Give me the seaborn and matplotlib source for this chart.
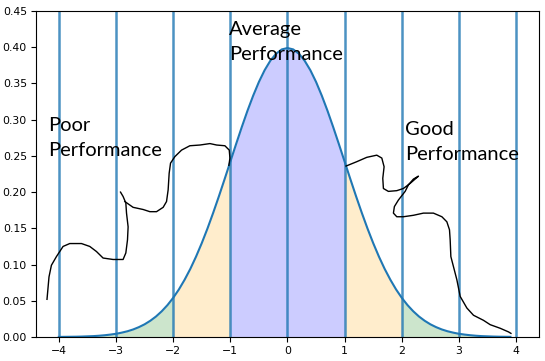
import numpy as np
import pandas as pd
import matplotlib
matplotlib.use("Agg")
import matplotlib.pyplot as plt
import seaborn as sns

# normal curve at 0.1 steps (x = -4.0 ... 3.9)
curve_x = np.round(np.arange(-40, 40) / 10, 1)
half_pdf = [0.3989, 0.3970, 0.3910, 0.3814, 0.3683, 0.3521, 0.3332, 0.3123, 0.2897, 0.2661,
            0.2420, 0.2179, 0.1942, 0.1714, 0.1497, 0.1295, 0.1109, 0.0940, 0.0790, 0.0656,
            0.0540, 0.0440, 0.0355, 0.0283, 0.0224, 0.0175, 0.0136, 0.0104, 0.0079, 0.0060,
            0.0044, 0.0033, 0.0024, 0.0017, 0.0012, 0.0009, 0.0006, 0.0004, 0.0003, 0.0002,
            0.0001]
curve_y = half_pdf[::-1] + half_pdf[1:40]

vlines = [-4, -3, -2, -1, 0, 1, 2, 3, 4]

# hand drawn strokes
stroke_a_x = [-4.207, -4.172, -4.130, -4.042, -3.926, -3.809, -3.604, -3.459, -3.342, -3.226,
              -3.051, -2.876, -2.828, -2.799, -2.788, -2.816, -2.828, -2.876, -2.921]
stroke_a_y = [0.052, 0.083, 0.099, 0.111, 0.125, 0.129, 0.129, 0.125, 0.118, 0.109,
              0.107, 0.107, 0.116, 0.134, 0.152, 0.171, 0.185, 0.194, 0.200]
stroke_b_x = [-2.846, -2.701, -2.525, -2.408, -2.291, -2.175, -2.116, -2.088, -2.070, -2.046,
              -1.970, -1.853, -1.708, -1.532, -1.357, -1.240, -1.095, -1.019, -1.007, -1.025]
stroke_b_y = [0.187, 0.179, 0.176, 0.173, 0.173, 0.179, 0.187, 0.203, 0.226, 0.240,
              0.249, 0.258, 0.264, 0.265, 0.267, 0.265, 0.264, 0.258, 0.247, 0.237]
stroke_c_x = [1.025, 1.212, 1.387, 1.562, 1.650, 1.690, 1.667, 1.678, 1.765, 1.912,
              2.028, 2.145, 2.291, 2.203, 2.116, 2.058, 1.940, 1.870, 1.853, 1.912,
              2.028, 2.203, 2.378, 2.553, 2.701, 2.788, 2.834, 2.846, 2.858, 2.904,
              2.963, 3.021, 3.138, 3.254, 3.429, 3.546, 3.722, 3.867, 3.909]
stroke_c_y = [0.236, 0.242, 0.248, 0.251, 0.247, 0.235, 0.219, 0.205, 0.201, 0.202,
              0.205, 0.212, 0.222, 0.218, 0.210, 0.201, 0.189, 0.180, 0.171, 0.166,
              0.166, 0.168, 0.171, 0.171, 0.166, 0.159, 0.148, 0.134, 0.111, 0.097,
              0.079, 0.056, 0.040, 0.030, 0.023, 0.017, 0.012, 0.007, 0.005]

labels = ["Poor\nPerformance", "Average\nPerformance", "Good\nPerformance"]
label_x = [-4.18, -1.02, 2.06]
label_y = [0.275, 0.407, 0.269]

df = pd.DataFrame({"x": curve_x, "y": curve_y})

fig = plt.figure(figsize=(5.45, 3.61), dpi=100)
ax = fig.add_axes([0.066, 0.0665, 0.923, 0.903])

xs = df["x"].values
ys = df["y"].values
ax.fill_between(xs, ys, where=(xs >= -1) & (xs <= 1), color="blue", alpha=0.2, lw=0)
ax.fill_between(xs, ys, where=(xs >= -2) & (xs <= -1), color="orange", alpha=0.2, lw=0)
ax.fill_between(xs, ys, where=(xs >= 1) & (xs <= 2), color="orange", alpha=0.2, lw=0)
ax.fill_between(xs, ys, where=(xs <= -2), color="green", alpha=0.2, lw=0)
ax.fill_between(xs, ys, where=(xs >= 2), color="green", alpha=0.2, lw=0)

sns.lineplot(data=df, x="x", y="y", ax=ax, color="tab:blue", lw=1.5, sort=False)

for v in vlines:
    ax.axvline(v, color="tab:blue", lw=1.8, alpha=0.8)

for sx, sy in [(stroke_a_x, stroke_a_y), (stroke_b_x, stroke_b_y), (stroke_c_x, stroke_c_y)]:
    sns.lineplot(x=sx, y=sy, ax=ax, color="black", lw=1, sort=False, estimator=None)

for t, tx, ty in zip(labels, label_x, label_y):
    ax.text(tx, ty, t, ha="left", va="center", fontsize=14.5, family="Lato", linespacing=1.55)

ax.set_xlim(-4.4, 4.4)
ax.set_ylim(0, 0.45)
ax.set_xticks(vlines)
ax.set_yticks(np.round(np.arange(0, 10) * 0.05, 2))
ax.yaxis.set_major_formatter(matplotlib.ticker.FormatStrFormatter("%.2f"))
ax.set_xlabel("")
ax.set_ylabel("")
ax.tick_params(labelsize=7.8, pad=3)

fig.savefig("out.png", dpi=100)
